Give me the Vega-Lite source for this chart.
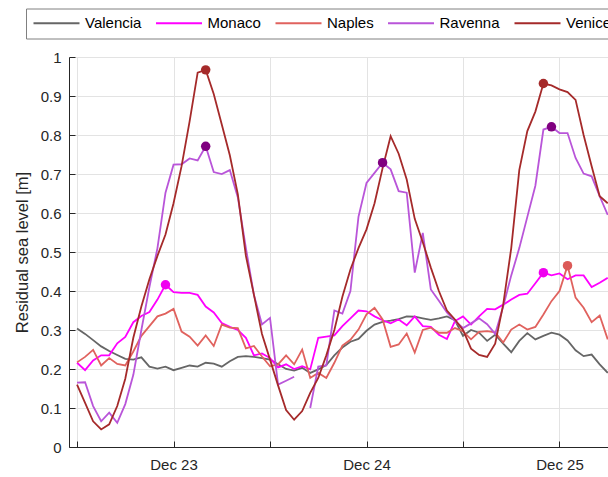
{
  "$schema": "https://vega.github.io/schema/vega-lite/v6.json",
  "width": 539,
  "height": 390,
  "autosize": {"type": "none"},
  "padding": {"left": 69, "top": 57, "right": 0, "bottom": 30},
  "background": "white",
  "config": {"font": "Liberation Sans", "view": {"stroke": null}},
  "datasets": {
    "series": [
      {"t": "2019-12-22T12:00", "Valencia": 0.304, "Monaco": 0.216, "Naples": 0.217, "Ravenna": 0.165, "Venice": 0.160},
      {"t": "2019-12-22T13:00", "Valencia": 0.290, "Monaco": 0.197, "Naples": 0.231, "Ravenna": 0.166, "Venice": 0.113},
      {"t": "2019-12-22T14:00", "Valencia": 0.274, "Monaco": 0.222, "Naples": 0.249, "Ravenna": 0.105, "Venice": 0.066},
      {"t": "2019-12-22T15:00", "Valencia": 0.258, "Monaco": 0.235, "Naples": 0.209, "Ravenna": 0.066, "Venice": 0.045},
      {"t": "2019-12-22T16:00", "Valencia": 0.246, "Monaco": 0.235, "Naples": 0.228, "Ravenna": 0.088, "Venice": 0.058},
      {"t": "2019-12-22T17:00", "Valencia": 0.236, "Monaco": 0.266, "Naples": 0.213, "Ravenna": 0.062, "Venice": 0.105},
      {"t": "2019-12-22T18:00", "Valencia": 0.226, "Monaco": 0.282, "Naples": 0.209, "Ravenna": 0.110, "Venice": 0.175},
      {"t": "2019-12-22T19:00", "Valencia": 0.224, "Monaco": 0.320, "Naples": 0.245, "Ravenna": 0.185, "Venice": 0.280},
      {"t": "2019-12-22T20:00", "Valencia": 0.230, "Monaco": 0.336, "Naples": 0.285, "Ravenna": 0.300, "Venice": 0.360},
      {"t": "2019-12-22T21:00", "Valencia": 0.206, "Monaco": 0.346, "Naples": 0.310, "Ravenna": 0.410, "Venice": 0.430},
      {"t": "2019-12-22T22:00", "Valencia": 0.201, "Monaco": 0.378, "Naples": 0.335, "Ravenna": 0.510, "Venice": 0.490},
      {"t": "2019-12-22T23:00", "Valencia": 0.206, "Monaco": 0.416, "Naples": 0.342, "Ravenna": 0.652, "Venice": 0.545},
      {"t": "2019-12-23T00:00", "Valencia": 0.197, "Monaco": 0.397, "Naples": 0.354, "Ravenna": 0.724, "Venice": 0.625},
      {"t": "2019-12-23T01:00", "Valencia": 0.203, "Monaco": 0.395, "Naples": 0.296, "Ravenna": 0.725, "Venice": 0.720},
      {"t": "2019-12-23T02:00", "Valencia": 0.209, "Monaco": 0.395, "Naples": 0.283, "Ravenna": 0.740, "Venice": 0.835},
      {"t": "2019-12-23T03:00", "Valencia": 0.206, "Monaco": 0.390, "Naples": 0.260, "Ravenna": 0.735, "Venice": 0.960},
      {"t": "2019-12-23T04:00", "Valencia": 0.216, "Monaco": 0.360, "Naples": 0.286, "Ravenna": 0.771, "Venice": 0.967},
      {"t": "2019-12-23T05:00", "Valencia": 0.214, "Monaco": 0.345, "Naples": 0.259, "Ravenna": 0.705, "Venice": 0.905},
      {"t": "2019-12-23T06:00", "Valencia": 0.206, "Monaco": 0.318, "Naples": 0.314, "Ravenna": 0.700, "Venice": 0.827},
      {"t": "2019-12-23T07:00", "Valencia": 0.220, "Monaco": 0.308, "Naples": 0.306, "Ravenna": 0.710, "Venice": 0.748},
      {"t": "2019-12-23T08:00", "Valencia": 0.231, "Monaco": 0.300, "Naples": 0.305, "Ravenna": 0.640, "Venice": 0.648},
      {"t": "2019-12-23T09:00", "Valencia": 0.233, "Monaco": 0.280, "Naples": 0.253, "Ravenna": 0.510, "Venice": 0.490},
      {"t": "2019-12-23T10:00", "Valencia": 0.231, "Monaco": 0.235, "Naples": 0.259, "Ravenna": 0.390, "Venice": 0.390},
      {"t": "2019-12-23T11:00", "Valencia": 0.228, "Monaco": 0.240, "Naples": 0.232, "Ravenna": 0.314, "Venice": 0.290},
      {"t": "2019-12-23T12:00", "Valencia": 0.224, "Monaco": 0.228, "Naples": 0.207, "Ravenna": 0.331, "Venice": 0.224},
      {"t": "2019-12-23T13:00", "Valencia": 0.212, "Monaco": 0.204, "Naples": 0.212, "Ravenna": 0.160, "Venice": 0.158},
      {"t": "2019-12-23T14:00", "Valencia": 0.200, "Monaco": 0.212, "Naples": 0.235, "Ravenna": 0.170, "Venice": 0.095},
      {"t": "2019-12-23T15:00", "Valencia": 0.196, "Monaco": 0.200, "Naples": 0.212, "Ravenna": 0.180, "Venice": 0.070},
      {"t": "2019-12-23T16:00", "Valencia": 0.203, "Monaco": 0.207, "Naples": 0.250, "Ravenna": null, "Venice": 0.092},
      {"t": "2019-12-23T17:00", "Valencia": 0.190, "Monaco": 0.199, "Naples": 0.177, "Ravenna": 0.100, "Venice": 0.139},
      {"t": "2019-12-23T18:00", "Valencia": 0.199, "Monaco": 0.280, "Naples": 0.190, "Ravenna": 0.206, "Venice": 0.177},
      {"t": "2019-12-23T19:00", "Valencia": 0.210, "Monaco": 0.283, "Naples": 0.177, "Ravenna": 0.209, "Venice": 0.235},
      {"t": "2019-12-23T20:00", "Valencia": 0.235, "Monaco": 0.286, "Naples": 0.216, "Ravenna": 0.350, "Venice": 0.300},
      {"t": "2019-12-23T21:00", "Valencia": 0.255, "Monaco": 0.310, "Naples": 0.260, "Ravenna": 0.342, "Venice": 0.385},
      {"t": "2019-12-23T22:00", "Valencia": 0.270, "Monaco": 0.330, "Naples": 0.275, "Ravenna": 0.400, "Venice": 0.455},
      {"t": "2019-12-23T23:00", "Valencia": 0.277, "Monaco": 0.350, "Naples": 0.301, "Ravenna": 0.590, "Venice": 0.510},
      {"t": "2019-12-24T00:00", "Valencia": 0.298, "Monaco": 0.348, "Naples": 0.340, "Ravenna": 0.677, "Venice": 0.558},
      {"t": "2019-12-24T01:00", "Valencia": 0.314, "Monaco": 0.335, "Naples": 0.357, "Ravenna": 0.703, "Venice": 0.625},
      {"t": "2019-12-24T02:00", "Valencia": 0.321, "Monaco": 0.325, "Naples": 0.327, "Ravenna": 0.729, "Venice": 0.715},
      {"t": "2019-12-24T03:00", "Valencia": 0.324, "Monaco": 0.317, "Naples": 0.257, "Ravenna": 0.712, "Venice": 0.797},
      {"t": "2019-12-24T04:00", "Valencia": 0.328, "Monaco": 0.327, "Naples": 0.263, "Ravenna": 0.656, "Venice": 0.752},
      {"t": "2019-12-24T05:00", "Valencia": 0.335, "Monaco": 0.312, "Naples": 0.291, "Ravenna": 0.652, "Venice": 0.686},
      {"t": "2019-12-24T06:00", "Valencia": 0.334, "Monaco": 0.335, "Naples": 0.242, "Ravenna": 0.447, "Venice": 0.585},
      {"t": "2019-12-24T07:00", "Valencia": 0.330, "Monaco": 0.310, "Naples": 0.300, "Ravenna": 0.549, "Venice": 0.525},
      {"t": "2019-12-24T08:00", "Valencia": 0.326, "Monaco": 0.308, "Naples": 0.306, "Ravenna": 0.404, "Venice": 0.460},
      {"t": "2019-12-24T09:00", "Valencia": 0.330, "Monaco": 0.288, "Naples": 0.293, "Ravenna": 0.375, "Venice": 0.400},
      {"t": "2019-12-24T10:00", "Valencia": 0.335, "Monaco": 0.277, "Naples": 0.293, "Ravenna": 0.345, "Venice": 0.350},
      {"t": "2019-12-24T11:00", "Valencia": 0.325, "Monaco": 0.323, "Naples": 0.305, "Ravenna": 0.323, "Venice": 0.327},
      {"t": "2019-12-24T12:00", "Valencia": 0.285, "Monaco": 0.335, "Naples": 0.297, "Ravenna": 0.305, "Venice": 0.300},
      {"t": "2019-12-24T13:00", "Valencia": 0.300, "Monaco": 0.314, "Naples": 0.276, "Ravenna": 0.317, "Venice": 0.252},
      {"t": "2019-12-24T14:00", "Valencia": 0.293, "Monaco": 0.335, "Naples": 0.295, "Ravenna": 0.330, "Venice": 0.236},
      {"t": "2019-12-24T15:00", "Valencia": 0.272, "Monaco": 0.354, "Naples": 0.297, "Ravenna": 0.315, "Venice": 0.231},
      {"t": "2019-12-24T16:00", "Valencia": 0.288, "Monaco": 0.353, "Naples": 0.294, "Ravenna": 0.290, "Venice": 0.265},
      {"t": "2019-12-24T17:00", "Valencia": 0.265, "Monaco": 0.365, "Naples": 0.268, "Ravenna": 0.360, "Venice": 0.365},
      {"t": "2019-12-24T18:00", "Valencia": 0.243, "Monaco": 0.378, "Naples": 0.301, "Ravenna": 0.440, "Venice": 0.510},
      {"t": "2019-12-24T19:00", "Valencia": 0.272, "Monaco": 0.390, "Naples": 0.314, "Ravenna": 0.510, "Venice": 0.710},
      {"t": "2019-12-24T20:00", "Valencia": 0.292, "Monaco": 0.393, "Naples": 0.301, "Ravenna": 0.590, "Venice": 0.810},
      {"t": "2019-12-24T21:00", "Valencia": 0.276, "Monaco": 0.420, "Naples": 0.308, "Ravenna": 0.670, "Venice": 0.860},
      {"t": "2019-12-24T22:00", "Valencia": 0.285, "Monaco": 0.447, "Naples": 0.340, "Ravenna": 0.814, "Venice": 0.932},
      {"t": "2019-12-24T23:00", "Valencia": 0.293, "Monaco": 0.440, "Naples": 0.374, "Ravenna": 0.821, "Venice": 0.927},
      {"t": "2019-12-25T00:00", "Valencia": 0.288, "Monaco": 0.445, "Naples": 0.400, "Ravenna": 0.805, "Venice": 0.917},
      {"t": "2019-12-25T01:00", "Valencia": 0.273, "Monaco": 0.430, "Naples": 0.465, "Ravenna": 0.805, "Venice": 0.910},
      {"t": "2019-12-25T02:00", "Valencia": 0.248, "Monaco": 0.440, "Naples": 0.383, "Ravenna": 0.741, "Venice": 0.890},
      {"t": "2019-12-25T03:00", "Valencia": 0.233, "Monaco": 0.440, "Naples": 0.357, "Ravenna": 0.701, "Venice": 0.800},
      {"t": "2019-12-25T04:00", "Valencia": 0.237, "Monaco": 0.410, "Naples": 0.320, "Ravenna": 0.694, "Venice": 0.720},
      {"t": "2019-12-25T05:00", "Valencia": 0.212, "Monaco": 0.421, "Naples": 0.337, "Ravenna": 0.643, "Venice": 0.643},
      {"t": "2019-12-25T06:00", "Valencia": 0.190, "Monaco": 0.434, "Naples": 0.276, "Ravenna": 0.595, "Venice": 0.625}
    ],
    "peaks": [
      {"station": "Monaco", "t": "2019-12-22T23:00", "level": 0.416},
      {"station": "Ravenna", "t": "2019-12-23T04:00", "level": 0.771},
      {"station": "Venice", "t": "2019-12-23T04:00", "level": 0.967},
      {"station": "Ravenna", "t": "2019-12-24T02:00", "level": 0.729},
      {"station": "Monaco", "t": "2019-12-24T22:00", "level": 0.447},
      {"station": "Venice", "t": "2019-12-24T22:00", "level": 0.932},
      {"station": "Ravenna", "t": "2019-12-24T23:00", "level": 0.821},
      {"station": "Naples", "t": "2019-12-25T01:00", "level": 0.465}
    ]
  },
  "encoding": {
    "x": {
      "field": "t",
      "type": "temporal",
      "scale": {
        "domain": [
          {"year": 2019, "month": 12, "date": 22, "hours": 11},
          {"year": 2019, "month": 12, "date": 25, "hours": 6, "minutes": 2}
        ]
      },
      "axis": {
        "title": null,
        "values": [
          {"year": 2019, "month": 12, "date": 22, "hours": 12},
          {"year": 2019, "month": 12, "date": 23, "hours": 0},
          {"year": 2019, "month": 12, "date": 23, "hours": 12},
          {"year": 2019, "month": 12, "date": 24, "hours": 0},
          {"year": 2019, "month": 12, "date": 24, "hours": 12},
          {"year": 2019, "month": 12, "date": 25, "hours": 0}
        ],
        "labelExpr": "hours(datum.value) == 12 ? '' : timeFormat(datum.value, '%b %d')",
        "grid": true,
        "gridColor": "#e3e3e3",
        "gridWidth": 1,
        "tickSize": -6,
        "tickColor": "#262626",
        "domainColor": "#262626",
        "labelFontSize": 15,
        "labelColor": "#262626",
        "labelPadding": 16,
        "labelFlush": false,
        "labelOverlap": false
      }
    },
    "y": {
      "field": "level",
      "type": "quantitative",
      "scale": {"domain": [0, 1], "nice": false},
      "axis": {
        "title": "Residual sea level [m]",
        "values": [0, 0.1, 0.2, 0.3, 0.4, 0.5, 0.6, 0.7, 0.8, 0.9, 1],
        "tickCount": 11,
        "format": ".1~f",
        "grid": true,
        "gridColor": "#e3e3e3",
        "tickSize": -6,
        "tickColor": "#262626",
        "domainColor": "#262626",
        "labelFontSize": 15,
        "labelColor": "#262626",
        "labelPadding": 14,
        "labelOverlap": false,
        "labelFlush": false,
        "titleFontSize": 16.5,
        "titleFontWeight": "normal",
        "titleColor": "#262626",
        "titlePadding": 10
      }
    }
  },
  "layer": [
    {
      "data": {"name": "series"},
      "transform": [
        {"fold": ["Valencia", "Monaco", "Naples", "Ravenna", "Venice"], "as": ["station", "level"]}
      ],
      "mark": {"type": "line", "strokeWidth": 1.8, "invalid": "break-paths-show-domains"},
      "encoding": {
        "color": {
          "field": "station",
          "type": "nominal",
          "scale": {
            "domain": ["Valencia", "Monaco", "Naples", "Ravenna", "Venice"],
            "range": ["#666666", "#ff00ff", "#e0625e", "#b955d9", "#a52a2a"]
          },
          "legend": {
            "orient": "none",
            "legendX": -43,
            "legendY": -48.5,
            "direction": "horizontal",
            "gridAlign": "each",
            "title": null,
            "symbolType": "M-3.5,0H19.5",
            "symbolSize": 16,
            "symbolStrokeWidth": 2,
            "labelFontSize": 15,
            "labelColor": "#000000",
            "labelOffset": 37,
            "labelLimit": 0,
            "columnPadding": 9.5,
            "padding": 7,
            "strokeColor": "#808080",
            "fillColor": "white"
          }
        }
      }
    },
    {
      "data": {"name": "peaks"},
      "mark": {"type": "circle", "size": 90, "opacity": 1},
      "encoding": {
        "fill": {
          "field": "station",
          "type": "nominal",
          "scale": {
            "domain": ["Monaco", "Naples", "Ravenna", "Venice"],
            "range": ["#f000f0", "#dc5a58", "#800080", "#a52a2a"]
          },
          "legend": null
        }
      }
    }
  ]
}
